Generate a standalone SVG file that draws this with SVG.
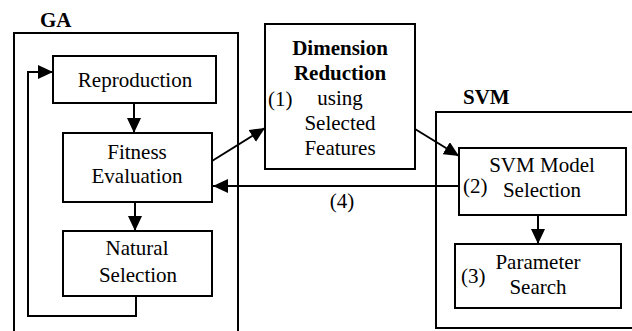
<svg xmlns="http://www.w3.org/2000/svg" width="632" height="331" viewBox="0 0 632 331">
<style>
.box{fill:#fff;stroke:#000;stroke-width:2}
.frame{fill:none;stroke:#000;stroke-width:2}
text{font-family:'Liberation Serif','DejaVu Serif',serif;font-size:21px;fill:#000;text-anchor:middle}
.b{font-weight:bold}
.l{text-anchor:start}
.c{fill:none;stroke:#000;stroke-width:2}
</style>
<defs>
<marker id="ah" markerUnits="userSpaceOnUse" markerWidth="16" markerHeight="14" refX="15" refY="7" orient="auto">
<path d="M0,0 L15,7 L0,14 z" fill="#000"/>
</marker>
</defs>
<rect width="632" height="331" fill="#fff"/>
<g id="ga">
<path class="frame" d="M14,340 V33 H238 V340"/>
<text class="b l" x="40" y="27">GA</text>
</g>
<g id="svm">
<path class="frame" d="M640,112 H436 V328 H640"/>
<text class="b l" x="463" y="104">SVM</text>
</g>
<g id="connectors">
<line class="c" x1="134" y1="103" x2="134" y2="133" marker-end="url(#ah)"/>
<line class="c" x1="135" y1="202" x2="135" y2="231" marker-end="url(#ah)"/>
<polyline class="c" points="136,296 136,316 28,316 28,72 53,72" marker-end="url(#ah)"/>
<line class="c" x1="212" y1="161" x2="265" y2="128" marker-end="url(#ah)"/>
<line class="c" x1="415" y1="129" x2="459" y2="156" marker-end="url(#ah)"/>
<line class="c" x1="459" y1="186" x2="213" y2="186" marker-end="url(#ah)"/>
<line class="c" x1="538" y1="215" x2="538" y2="244" marker-end="url(#ah)"/>
<text x="342" y="208">(4)</text>
</g>
<g id="reproduction">
<rect class="box" x="53" y="56" width="163" height="47"/>
<text x="135" y="87">Reproduction</text>
</g>
<g id="fitness">
<rect class="box" x="63" y="133" width="149" height="69"/>
<text x="137" y="159">Fitness</text>
<text x="137" y="183">Evaluation</text>
</g>
<g id="natural">
<rect class="box" x="63" y="231" width="149" height="65"/>
<text x="137" y="255">Natural</text>
<text x="138" y="282">Selection</text>
</g>
<g id="dimension">
<rect class="box" x="265" y="24" width="150" height="145"/>
<text class="b" x="340" y="55">Dimension</text>
<text class="b" x="340" y="80">Reduction</text>
<text x="340" y="105">using</text>
<text x="340" y="130">Selected</text>
<text x="340" y="155">Features</text>
<text class="l" x="268" y="106">(1)</text>
</g>
<g id="model">
<rect class="box" x="459" y="148" width="167" height="67"/>
<text x="542" y="172">SVM Model</text>
<text x="542" y="197">Selection</text>
<text class="l" x="463" y="193">(2)</text>
</g>
<g id="param">
<rect class="box" x="455" y="244" width="166" height="64"/>
<text x="538" y="269">Parameter</text>
<text x="538" y="294">Search</text>
<text class="l" x="461" y="283">(3)</text>
</g>
</svg>
